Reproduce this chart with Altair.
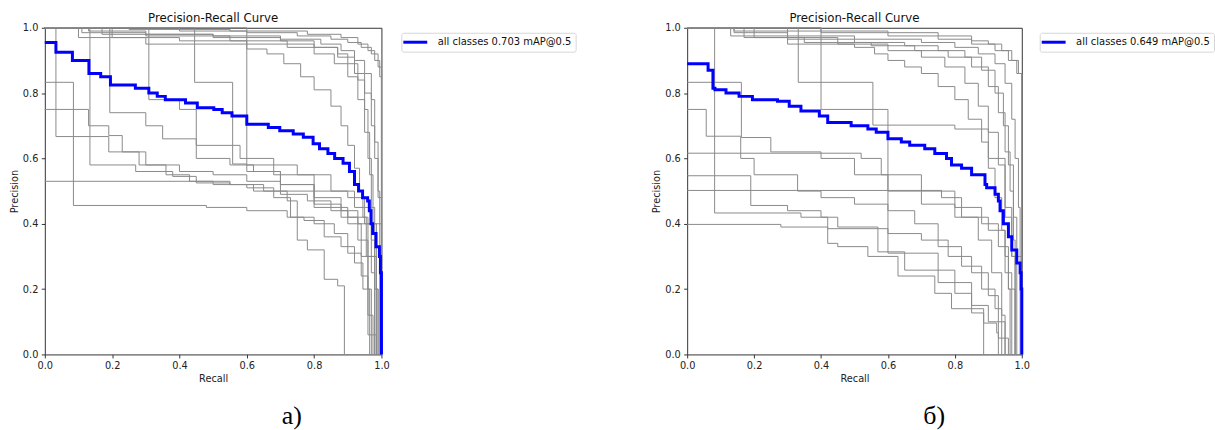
import altair as alt
import pandas as pd

# ---------------------------------------------------------------
# Panel (а): per-class precision/recall steps, (recall, precision)
# ---------------------------------------------------------------
a_class_01 = [(0.00, 1.00), (0.40, 0.99), (0.60, 0.985), (0.75, 0.975), (0.85, 0.965), (0.90, 0.955),
              (0.94, 0.94), (0.97, 0.92), (0.99, 0.88), (1.00, 0.00)]
a_class_02 = [(0.00, 1.00), (0.13, 0.99), (0.30, 0.98), (0.50, 0.975), (0.70, 0.965), (0.82, 0.95),
              (0.88, 0.93), (0.92, 0.90), (0.95, 0.86), (0.97, 0.78), (0.98, 0.65), (0.99, 0.50), (0.995, 0.00)]
a_class_03 = [(0.00, 1.00), (0.11, 0.985), (0.30, 0.975), (0.55, 0.96), (0.72, 0.95), (0.80, 0.94),
              (0.87, 0.92), (0.90, 0.89), (0.93, 0.84), (0.95, 0.75), (0.96, 0.60), (0.97, 0.45), (0.98, 0.30), (0.985, 0.00)]
a_class_04 = [(0.00, 1.00), (0.20, 0.97), (0.40, 0.96), (0.60, 0.95), (0.72, 0.94), (0.80, 0.92),
              (0.86, 0.89), (0.90, 0.85), (0.93, 0.78), (0.95, 0.68), (0.965, 0.55), (0.975, 0.40), (0.985, 0.20), (0.99, 0.00)]
a_class_05 = [(0.00, 1.00), (0.10, 0.97), (0.30, 0.95), (0.60, 0.935), (0.66, 0.92), (0.71, 0.89),
              (0.76, 0.85), (0.80, 0.81), (0.85, 0.76), (0.88, 0.70), (0.90, 0.64), (0.92, 0.57),
              (0.935, 0.50), (0.945, 0.42), (0.955, 0.30), (0.96, 0.20), (0.965, 0.00)]
a_class_06 = [(0.00, 1.00), (0.17, 0.98), (0.50, 0.97), (0.70, 0.96), (0.80, 0.94), (0.87, 0.91),
              (0.92, 0.86), (0.95, 0.80), (0.97, 0.70), (0.98, 0.60), (0.99, 0.48), (1.00, 0.00)]
a_class_07 = [(0.00, 1.00), (0.25, 0.995), (0.55, 0.99), (0.78, 0.98), (0.88, 0.97), (0.93, 0.95),
              (0.96, 0.93), (0.98, 0.90), (0.995, 0.85), (1.00, 0.00)]
a_class_08 = [(0.00, 0.833), (0.085, 0.456), (0.48, 0.45), (0.60, 0.44), (0.72, 0.42), (0.80, 0.40),
              (0.86, 0.37), (0.90, 0.31), (0.94, 0.24), (0.96, 0.12), (0.975, 0.00)]
a_class_09 = [(0.00, 1.00), (0.033, 0.667), (0.134, 0.58), (0.27, 0.56), (0.38, 0.545), (0.45, 0.53),
              (0.55, 0.52), (0.62, 0.50), (0.70, 0.49), (0.78, 0.47), (0.85, 0.44), (0.90, 0.40),
              (0.94, 0.30), (0.96, 0.20), (0.97, 0.06), (0.985, 0.00)]
a_class_10 = [(0.00, 0.53), (0.45, 0.525), (0.55, 0.52), (0.65, 0.50), (0.72, 0.47), (0.75, 0.35),
              (0.78, 0.32), (0.83, 0.23), (0.87, 0.21), (0.89, 0.00)]
a_class_11 = [(0.00, 0.75), (0.13, 0.70), (0.19, 0.67), (0.23, 0.62), (0.30, 0.58), (0.40, 0.56),
              (0.50, 0.55), (0.60, 0.53), (0.70, 0.50), (0.80, 0.46), (0.88, 0.42), (0.93, 0.35),
              (0.96, 0.30), (0.985, 0.00)]
a_class_12 = [(0.00, 1.00), (0.134, 0.667), (0.19, 0.62), (0.28, 0.58), (0.36, 0.55), (0.43, 0.53),
              (0.50, 0.52), (0.60, 0.51), (0.68, 0.48), (0.73, 0.42), (0.77, 0.41), (0.83, 0.36),
              (0.88, 0.33), (0.92, 0.28), (0.945, 0.20), (0.96, 0.06), (0.97, 0.00)]
a_class_13 = [(0.00, 1.00), (0.445, 0.833), (0.558, 0.583), (0.60, 0.56), (0.70, 0.52), (0.80, 0.48),
              (0.88, 0.44), (0.93, 0.40), (0.96, 0.30), (0.98, 0.20), (0.99, 0.00)]
a_class_14 = [(0.00, 1.00), (0.309, 0.78), (0.40, 0.75), (0.45, 0.60), (0.55, 0.58), (0.62, 0.56),
              (0.70, 0.52), (0.80, 0.50), (0.90, 0.48), (0.95, 0.45), (0.97, 0.35), (0.98, 0.00)]
a_class_15 = [(0.00, 1.00), (0.60, 0.58), (0.75, 0.55), (0.85, 0.50), (0.92, 0.45), (0.95, 0.40),
              (0.97, 0.25), (0.98, 0.00)]
a_class_16 = [(0.00, 1.00), (0.193, 0.74), (0.30, 0.70), (0.35, 0.66), (0.45, 0.64), (0.58, 0.60),
              (0.68, 0.55), (0.80, 0.45), (0.90, 0.42), (0.96, 0.40), (1.00, 0.00)]

a_all_classes = [(0.000, 0.955), (0.033, 0.925), (0.082, 0.900), (0.131, 0.860), (0.166, 0.850),
                 (0.195, 0.825), (0.269, 0.815), (0.309, 0.800), (0.334, 0.790), (0.358, 0.780),
                 (0.418, 0.770), (0.453, 0.755), (0.502, 0.750), (0.527, 0.740), (0.556, 0.730),
                 (0.600, 0.705), (0.664, 0.695), (0.698, 0.685), (0.738, 0.675), (0.768, 0.665),
                 (0.797, 0.645), (0.816, 0.630), (0.841, 0.615), (0.861, 0.600), (0.886, 0.585),
                 (0.905, 0.560), (0.920, 0.520), (0.932, 0.500), (0.944, 0.480), (0.959, 0.470),
                 (0.964, 0.440), (0.969, 0.400), (0.974, 0.370), (0.984, 0.330), (0.994, 0.300),
                 (0.997, 0.250), (1.000, 0.000)]

# ---------------------------------------------------------------
# Panel (б)
# ---------------------------------------------------------------
b_class_01 = [(0.00, 1.00), (0.40, 0.99), (0.60, 0.985), (0.75, 0.975), (0.85, 0.96), (0.90, 0.95),
              (0.94, 0.93), (0.97, 0.90), (0.99, 0.86), (1.00, 0.00)]
b_class_02 = [(0.00, 1.00), (0.14, 0.985), (0.30, 0.975), (0.50, 0.965), (0.70, 0.955), (0.80, 0.94),
              (0.87, 0.92), (0.92, 0.89), (0.95, 0.83), (0.97, 0.72), (0.98, 0.60), (0.99, 0.45), (0.995, 0.00)]
b_class_03 = [(0.00, 1.00), (0.13, 0.975), (0.30, 0.965), (0.50, 0.955), (0.65, 0.945), (0.75, 0.93),
              (0.83, 0.91), (0.88, 0.87), (0.92, 0.80), (0.945, 0.70), (0.96, 0.58), (0.975, 0.42), (0.985, 0.00)]
b_class_04 = [(0.00, 1.00), (0.17, 0.97), (0.35, 0.955), (0.55, 0.945), (0.68, 0.93), (0.78, 0.91),
              (0.85, 0.88), (0.90, 0.82), (0.93, 0.74), (0.95, 0.62), (0.965, 0.50), (0.975, 0.35), (0.98, 0.00)]
b_class_05 = [(0.00, 1.00), (0.30, 0.95), (0.50, 0.94), (0.56, 0.92), (0.60, 0.90), (0.65, 0.88),
              (0.70, 0.86), (0.75, 0.82), (0.80, 0.78), (0.84, 0.72), (0.88, 0.65), (0.90, 0.57),
              (0.92, 0.48), (0.94, 0.38), (0.95, 0.30), (0.96, 0.20), (0.965, 0.00)]
b_class_06 = [(0.00, 1.00), (0.20, 0.97), (0.45, 0.95), (0.60, 0.93), (0.70, 0.91), (0.77, 0.88),
              (0.83, 0.83), (0.87, 0.76), (0.90, 0.68), (0.93, 0.58), (0.95, 0.45), (0.97, 0.30), (0.98, 0.00)]
b_class_07 = [(0.00, 1.00), (0.14, 0.99), (0.40, 0.985), (0.60, 0.975), (0.75, 0.965), (0.85, 0.95),
              (0.92, 0.93), (0.96, 0.90), (0.985, 0.86), (1.00, 0.00)]
b_class_08 = [(0.00, 0.833), (0.162, 0.664), (0.25, 0.62), (0.40, 0.60), (0.50, 0.55), (0.60, 0.50),
              (0.70, 0.46), (0.80, 0.42), (0.87, 0.35), (0.91, 0.25), (0.94, 0.12), (0.95, 0.00)]
b_class_09 = [(0.00, 0.75), (0.057, 0.668), (0.16, 0.60), (0.20, 0.55), (0.33, 0.50), (0.40, 0.48),
              (0.50, 0.46), (0.60, 0.44), (0.68, 0.40), (0.75, 0.33), (0.82, 0.27), (0.88, 0.20),
              (0.92, 0.14), (0.94, 0.00)]
b_class_10 = [(0.00, 0.616), (0.52, 0.60), (0.58, 0.55), (0.70, 0.50), (0.80, 0.45), (0.88, 0.40),
              (0.93, 0.33), (0.96, 0.20), (0.98, 0.00)]
b_class_11 = [(0.00, 0.547), (0.19, 0.456), (0.30, 0.44), (0.40, 0.42), (0.42, 0.385), (0.60, 0.37),
              (0.70, 0.35), (0.78, 0.30), (0.85, 0.25), (0.90, 0.18), (0.93, 0.10), (0.95, 0.00)]
b_class_12 = [(0.00, 0.502), (0.76, 0.48), (0.82, 0.42), (0.90, 0.38), (0.95, 0.25), (0.97, 0.00)]
b_class_13 = [(0.00, 0.398), (0.28, 0.39), (0.42, 0.34), (0.45, 0.33), (0.54, 0.30), (0.63, 0.24),
              (0.74, 0.187), (0.79, 0.14), (0.886, 0.00)]
b_class_14 = [(0.00, 1.00), (0.082, 0.433), (0.34, 0.42), (0.45, 0.39), (0.57, 0.314), (0.65, 0.258),
              (0.80, 0.187), (0.85, 0.127), (0.886, 0.096), (0.925, 0.066), (0.93, 0.00)]
b_class_15 = [(0.00, 1.00), (0.332, 0.833), (0.555, 0.702), (0.80, 0.69), (0.90, 0.60), (0.95, 0.42),
              (0.97, 0.30), (1.00, 0.00)]
b_class_16 = [(0.00, 1.00), (0.40, 0.75), (0.60, 0.31), (0.75, 0.22), (0.85, 0.15), (0.90, 0.10),
              (0.93, 0.05), (0.96, 0.00)]

b_all_classes = [(0.000, 0.890), (0.0625, 0.870), (0.077, 0.815), (0.083, 0.810), (0.116, 0.800),
                 (0.155, 0.790), (0.195, 0.780), (0.270, 0.775), (0.305, 0.760), (0.340, 0.745),
                 (0.395, 0.730), (0.420, 0.710), (0.490, 0.700), (0.540, 0.690), (0.565, 0.680),
                 (0.600, 0.660), (0.640, 0.650), (0.665, 0.640), (0.710, 0.630), (0.740, 0.615),
                 (0.775, 0.600), (0.790, 0.580), (0.820, 0.570), (0.850, 0.550), (0.890, 0.520),
                 (0.895, 0.510), (0.920, 0.490), (0.930, 0.470), (0.935, 0.440), (0.945, 0.400),
                 (0.960, 0.360), (0.970, 0.320), (0.985, 0.280), (0.995, 0.250), (0.998, 0.200),
                 (1.000, 0.000)]

panel_a_classes = [a_class_01, a_class_02, a_class_03, a_class_04, a_class_05, a_class_06, a_class_07,
                   a_class_08, a_class_09, a_class_10, a_class_11, a_class_12, a_class_13, a_class_14,
                   a_class_15, a_class_16]
panel_b_classes = [b_class_01, b_class_02, b_class_03, b_class_04, b_class_05, b_class_06, b_class_07,
                   b_class_08, b_class_09, b_class_10, b_class_11, b_class_12, b_class_13, b_class_14,
                   b_class_15, b_class_16]

legend_labels = ["all classes 0.703 mAP@0.5", "all classes 0.649 mAP@0.5"]
captions = ["а)", "б)"]
tick_values = [0.0, 0.2, 0.4, 0.6, 0.8, 1.0]

FONT = "DejaVu Sans"
GREY = "#8a8a8a"
BLUE = "#0000ff"


def class_frame(curves):
    rows = []
    for k, curve in enumerate(curves):
        for i, (r, p) in enumerate(curve):
            rows.append({"cls": f"class {k + 1}", "i": i, "recall": r, "precision": p})
    return pd.DataFrame(rows)


def all_frame(curve, label):
    return pd.DataFrame({"recall": [r for r, _ in curve],
                         "precision": [p for _, p in curve],
                         "series": label})


def panel(curves, all_curve, label, caption, width, legend_x):
    x_enc = alt.X("recall:Q",
                  scale=alt.Scale(domain=[0, 1], nice=False, zero=False),
                  axis=alt.Axis(values=tick_values, format=".1f", title="Recall",
                                labelPadding=2.5, titlePadding=3.5, labelFlush=False,
                                labelOverlap=False, grid=False))
    y_enc = alt.Y("precision:Q",
                  scale=alt.Scale(domain=[0, 1], nice=False, zero=False),
                  axis=alt.Axis(values=tick_values, format=".1f", title="Precision",
                                labelPadding=3.5, titlePadding=3, labelFlush=False,
                                labelOverlap=False, grid=False))

    grey = alt.Chart(class_frame(curves)).mark_line(
        interpolate="step-after", color=GREY, strokeWidth=1
    ).encode(x=x_enc, y=y_enc, detail="cls:N")

    blue = alt.Chart(all_frame(all_curve, label)).mark_line(
        interpolate="step-after", strokeWidth=3
    ).encode(
        x="recall:Q",
        y="precision:Q",
        color=alt.Color("series:N", scale=alt.Scale(range=[BLUE]),
                        legend=alt.Legend(title=None, orient="none",
                                          legendX=legend_x, legendY=5,
                                          symbolType="M-2.4,0H2.4", symbolSize=100,
                                          symbolStrokeWidth=3, symbolStrokeColor=BLUE,
                                          symbolOffset=4.5,
                                          labelFont=FONT, labelFontSize=10,
                                          labelColor="#111", labelOffset=16,
                                          padding=3, cornerRadius=2,
                                          strokeColor="#d6d6d6", fillColor="white")),
    )

    cap = alt.Chart(pd.DataFrame({"cap": [caption]})).mark_text(
        font="Liberation Serif", fontSize=26, baseline="alphabetic", align="center",
        color="#000"
    ).encode(x=alt.value(248), y=alt.value(398), text="cap:N")

    return alt.layer(grey, blue, cap).properties(
        width=width, height=328,
        title=alt.TitleParams("Precision-Recall Curve", font=FONT, fontSize=11.8,
                              fontWeight="normal", color="#111", offset=-2),
    )


left = panel(panel_a_classes, a_all_classes, legend_labels[0], captions[0], 338, 358)
right = panel(panel_b_classes, b_all_classes, legend_labels[1], captions[1], 336, 354)

chart = alt.hconcat(
    left, right, spacing=307, bounds="flush",
    padding={"left": 8, "top": 11, "right": 0, "bottom": 0},
    background="white",
).resolve_scale(
    color="independent", x="independent", y="independent"
).resolve_legend(
    color="independent"
).configure_view(
    stroke="#333", strokeWidth=1
).configure_axis(
    grid=False, domain=False, tickSize=3.5, tickColor="#333", tickWidth=1,
    labelFont=FONT, labelFontSize=9.8, labelColor="#222",
    titleFont=FONT, titleFontSize=9.8, titleFontWeight="normal", titleColor="#222",
)

chart.save("out.html", embed_options={"renderer": "svg", "actions": False})
